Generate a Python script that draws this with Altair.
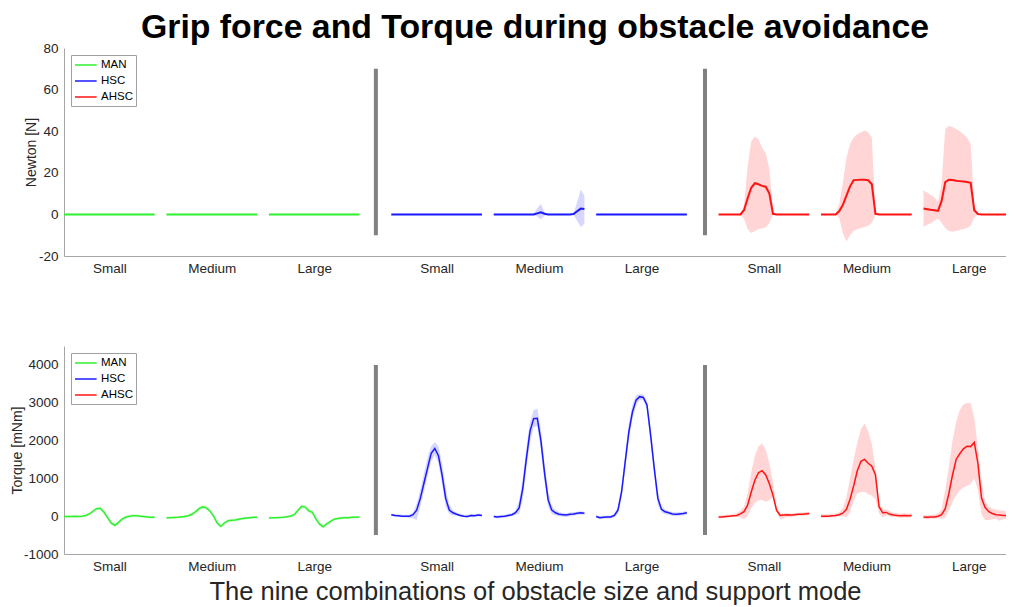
import altair as alt
import pandas as pd

# ---------------- categories ----------------
MODES = ["MAN", "HSC", "AHSC"]
SIZES = ["Small", "Medium", "Large"]
MODE_COLORS = ["#2ef02e", "#1a1aff", "#ff1414"]

# sample layout of the concatenated recordings (sample index units)
SAMPLE_STEP = 4      # samples between two stored points
SEG_STRIDE = 113     # start-to-start distance of two sizes inside one mode
GROUP_STRIDE = 361   # start-to-start distance of two modes
X_MAX = 1039
SEPARATOR_X = [344, 707]

# ---------------- Grip force [N] (26 points per segment) ----------------
newton_man_small_mean = [0,0,0,0,0,0,0,0,0,0,0,0,0,0,0,0,0,0,0,0,0,0,0,0,0,0]
newton_man_medium_mean = [0,0,0,0,0,0,0,0,0,0,0,0,0,0,0,0,0,0,0,0,0,0,0,0,0,0]
newton_man_large_mean = [0,0,0,0,0,0,0,0,0,0,0,0,0,0,0,0,0,0,0,0,0,0,0,0,0,0]
newton_flat_hi = [0.3,0.3,0.3,0.3,0.3,0.3,0.3,0.3,0.3,0.3,0.3,0.3,0.3,0.3,0.3,0.3,0.3,0.3,0.3,0.3,0.3,0.3,0.3,0.3,0.3,0.3]
newton_flat_lo = [-0.3,-0.3,-0.3,-0.3,-0.3,-0.3,-0.3,-0.3,-0.3,-0.3,-0.3,-0.3,-0.3,-0.3,-0.3,-0.3,-0.3,-0.3,-0.3,-0.3,-0.3,-0.3,-0.3,-0.3,-0.3,-0.3]

newton_hsc_small_mean = [0,0,0,0,0,0,0,0,0,0,0,0,0,0,0,0,0,0,0,0,0,0,0,0,0,0]
newton_hsc_large_mean = [0,0,0,0,0,0,0,0,0,0,0,0,0,0,0,0,0,0,0,0,0,0,0,0,0,0]
newton_hsc_medium_mean = [0,0,0,0,0,0,0,0,0,0,0,0,0.5,1.0,0.3,0,0,0,0,0,0,0,0.2,1.5,2.8,2.6]
newton_hsc_medium_hi = [0.3,0.3,0.3,0.3,0.3,0.3,0.3,0.3,0.3,0.3,0.3,0.3,3,5,1,0.3,0.3,0.3,0.3,0.3,0.3,0.3,0.6,6,12,9]
newton_hsc_medium_lo = [-0.3,-0.3,-0.3,-0.3,-0.3,-0.3,-0.3,-0.3,-0.3,-0.3,-0.3,-0.3,-1,-2.5,-0.5,-0.3,-0.3,-0.3,-0.3,-0.3,-0.3,-0.3,-0.2,-3,-6,-4.5]

newton_ahsc_small_mean = [0,0,0,0,0,0,0,2,7.7,12.8,15,14.5,13.7,13.3,10,0.3,0,0,0,0,0,0,0,0,0,0]
newton_ahsc_small_hi = [0.3,0.3,0.3,0.3,0.3,0.3,0.3,4,23,35,37.5,36,32,29.5,22,0.8,0.3,0.3,0.3,0.3,0.3,0.3,0.3,0.3,0.3,0.3]
newton_ahsc_small_lo = [-0.3,-0.3,-0.3,-0.3,-0.3,-0.3,-0.3,-2,-7,-9,-8,-7,-6.7,-6.3,-4,-0.3,-0.3,-0.3,-0.3,-0.3,-0.3,-0.3,-0.3,-0.3,-0.3,-0.3]

newton_ahsc_medium_mean = [0,0,0,0,0,1.5,4.5,9,13.5,16.4,16.6,16.7,16.7,16.4,14.5,0.3,0,0,0,0,0,0,0,0,0,0]
newton_ahsc_medium_hi = [0.3,0.3,0.3,0.3,0.5,5,15,27,34,37,38.5,39.5,40.3,39.5,37,0.8,0.3,0.3,0.3,0.3,0.3,0.3,0.3,0.3,0.3,0.3]
newton_ahsc_medium_lo = [-0.3,-0.3,-0.3,-0.3,-0.3,-1.5,-9,-13,-10,-8,-7,-6.5,-6,-5.5,-4,-0.3,-0.3,-0.3,-0.3,-0.3,-0.3,-0.3,-0.3,-0.3,-0.3,-0.3]

newton_ahsc_large_mean = [2.8,2.5,2.2,2.0,1.7,6.5,15.5,16.7,16.5,16.2,16.0,15.8,15.6,15.2,2,0.2,0,0,0,0,0,0,0,0,0,0]
newton_ahsc_large_hi = [11.5,10.5,9.5,8.2,6,15,41,42.5,42,41,40,38.5,37,34,4,0.5,0.3,0.3,0.3,0.3,0.3,0.3,0.3,0.3,0.3,0.3]
newton_ahsc_large_lo = [-6,-5,-4.3,-3,-2,-4,-6.5,-8,-8.3,-8,-7.5,-7,-6.5,-5.5,-1.5,-0.3,-0.3,-0.3,-0.3,-0.3,-0.3,-0.3,-0.3,-0.3,-0.3,-0.3]

# ---------------- Torque [mNm] ----------------
torque_man_small_mean = [-10,-10,-10,-5,-10,0,20,60,130,200,210,110,-40,-180,-240,-170,-80,-30,0,10,10,0,-10,-20,-30,-30]
torque_man_small_sd = [30,30,30,30,30,30,35,40,45,45,45,50,55,55,50,50,45,40,40,40,40,35,35,35,35,35]
torque_man_medium_mean = [-40,-40,-35,-30,-20,-10,10,50,115,200,245,220,140,0,-180,-265,-180,-120,-110,-100,-80,-60,-50,-40,-30,-30]
torque_man_medium_sd = [30,30,30,30,30,35,40,45,50,55,55,55,55,60,60,55,50,45,40,40,40,35,35,35,35,35]
torque_man_large_mean = [-45,-40,-40,-35,-30,-15,5,40,150,260,240,140,100,-80,-210,-280,-200,-140,-80,-60,-50,-40,-40,-30,-30,-20]
torque_man_large_sd = [30,30,30,30,30,35,40,45,50,55,55,55,60,60,60,55,50,45,40,40,40,35,35,35,35,35]

torque_hsc_small_mean = [40,20,10,0,0,0,40,160,470,870,1270,1660,1790,1600,1090,470,160,90,50,20,0,-10,20,10,30,20]
torque_hsc_small_hi = [70,60,50,40,40,40,100,330,700,1130,1550,1850,1960,1850,1400,750,300,160,100,70,40,40,60,50,70,60]
torque_hsc_small_lo = [0,-10,-20,-30,-30,-40,-60,-100,250,650,1050,1450,1620,1400,850,250,50,20,10,-10,-30,-40,-10,-20,0,-10]

torque_hsc_medium_mean = [-10,-20,-10,0,20,40,90,220,730,1530,2250,2580,2590,2000,1150,430,160,90,50,40,30,50,60,80,90,80]
torque_hsc_medium_hi = [30,20,30,40,60,80,150,400,1000,1800,2500,2800,2850,2300,1400,650,280,170,110,90,80,100,110,120,130,120]
torque_hsc_medium_lo = [-50,-60,-50,-40,-20,0,30,60,450,1250,1950,2350,2380,1750,900,250,60,20,0,-10,-20,0,10,30,40,40]

torque_hsc_large_mean = [-10,-40,-30,-20,-20,20,160,640,1440,2230,2760,3070,3160,3140,2940,2150,1270,470,180,115,90,60,50,60,70,90]
torque_hsc_large_hi = [30,0,10,20,20,70,260,800,1650,2450,2950,3200,3230,3220,3050,2350,1450,650,270,180,140,110,100,110,120,140]
torque_hsc_large_lo = [-50,-80,-70,-60,-60,-30,60,480,1230,2000,2560,2930,3080,3060,2820,1950,1090,300,100,50,40,10,0,10,20,40]

torque_ahsc_small_mean = [-20,-20,-10,0,10,20,60,120,290,640,950,1150,1200,1090,860,550,150,20,30,40,30,40,50,50,60,70]
torque_ahsc_small_hi = [20,20,30,40,50,80,150,250,600,1150,1600,1850,1920,1750,1400,900,250,80,80,80,70,80,90,100,110,120]
torque_ahsc_small_lo = [-60,-50,-40,-30,-20,-20,-30,-80,0,200,350,420,430,380,420,500,100,-80,-40,-20,-20,0,10,10,20,30]

torque_ahsc_medium_mean = [0,0,0,10,20,40,80,180,450,800,1200,1450,1500,1400,1320,1100,250,90,100,50,30,20,10,20,10,20]
torque_ahsc_medium_hi = [50,50,50,60,70,100,200,500,1000,1500,1950,2300,2450,2250,1900,1300,350,200,180,130,90,80,70,80,70,80]
torque_ahsc_medium_lo = [-40,-40,-40,-30,-20,0,0,-20,100,400,600,640,640,580,550,450,80,-30,20,-10,-20,-30,-40,-30,-40,-30]

torque_ahsc_large_mean = [-20,-30,-20,-20,0,40,200,600,1090,1500,1650,1780,1850,1840,1950,1400,480,230,120,70,40,30,20,20,10,10]
torque_ahsc_large_hi = [30,20,30,40,80,180,700,1300,2000,2500,2800,2950,2990,2990,2600,1800,900,400,250,200,170,150,150,120,90,80]
torque_ahsc_large_lo = [-70,-80,-70,-60,-60,-60,-40,150,380,550,680,760,800,860,1000,700,50,-100,-100,-80,-70,-120,-80,-60,-60,-50]

NEWTON = {
    ("MAN", "Small"): (newton_man_small_mean, newton_flat_lo, newton_flat_hi),
    ("MAN", "Medium"): (newton_man_medium_mean, newton_flat_lo, newton_flat_hi),
    ("MAN", "Large"): (newton_man_large_mean, newton_flat_lo, newton_flat_hi),
    ("HSC", "Small"): (newton_hsc_small_mean, newton_flat_lo, newton_flat_hi),
    ("HSC", "Medium"): (newton_hsc_medium_mean, newton_hsc_medium_lo, newton_hsc_medium_hi),
    ("HSC", "Large"): (newton_hsc_large_mean, newton_flat_lo, newton_flat_hi),
    ("AHSC", "Small"): (newton_ahsc_small_mean, newton_ahsc_small_lo, newton_ahsc_small_hi),
    ("AHSC", "Medium"): (newton_ahsc_medium_mean, newton_ahsc_medium_lo, newton_ahsc_medium_hi),
    ("AHSC", "Large"): (newton_ahsc_large_mean, newton_ahsc_large_lo, newton_ahsc_large_hi),
}


def sd_band(mean, sd):
    return ([m - s for m, s in zip(mean, sd)], [m + s for m, s in zip(mean, sd)])


TORQUE = {
    ("MAN", "Small"): (torque_man_small_mean, *sd_band(torque_man_small_mean, torque_man_small_sd)),
    ("MAN", "Medium"): (torque_man_medium_mean, *sd_band(torque_man_medium_mean, torque_man_medium_sd)),
    ("MAN", "Large"): (torque_man_large_mean, *sd_band(torque_man_large_mean, torque_man_large_sd)),
    ("HSC", "Small"): (torque_hsc_small_mean, torque_hsc_small_lo, torque_hsc_small_hi),
    ("HSC", "Medium"): (torque_hsc_medium_mean, torque_hsc_medium_lo, torque_hsc_medium_hi),
    ("HSC", "Large"): (torque_hsc_large_mean, torque_hsc_large_lo, torque_hsc_large_hi),
    ("AHSC", "Small"): (torque_ahsc_small_mean, torque_ahsc_small_lo, torque_ahsc_small_hi),
    ("AHSC", "Medium"): (torque_ahsc_medium_mean, torque_ahsc_medium_lo, torque_ahsc_medium_hi),
    ("AHSC", "Large"): (torque_ahsc_large_mean, torque_ahsc_large_lo, torque_ahsc_large_hi),
}


def build_frame(table):
    rows = []
    for g, mode in enumerate(MODES):
        for p, size in enumerate(SIZES):
            mean, lo, hi = table[(mode, size)]
            start = g * GROUP_STRIDE + p * SEG_STRIDE
            for i, (m, l, h) in enumerate(zip(mean, lo, hi)):
                rows.append(dict(mode=mode, seg=f"{mode}-{size}",
                                 x=start + i * SAMPLE_STEP, mean=m, lo=l, hi=h))
    return pd.DataFrame(rows)


TICK_X = [g * GROUP_STRIDE + p * SEG_STRIDE + 50 for g in range(3) for p in range(3)]
LABEL_EXPR = (f"datum.value % {GROUP_STRIDE} < 100 ? 'Small' : "
              f"(datum.value % {GROUP_STRIDE} < 200 ? 'Medium' : 'Large')")

FONT = "Liberation Sans"
AXIS_GREY = "#a6a6a6"
TEXT_GREY = "#262626"


def panel(table, ydom, yticks, ytitle, ytitle_x, sep_lo, sep_hi, xtitle, line_width, title=None):
    df = build_frame(table)
    sep = pd.DataFrame({"x": SEPARATOR_X, "y0": [sep_lo] * 2, "y1": [sep_hi] * 2})

    xaxis_kw = dict(values=TICK_X, labelExpr=LABEL_EXPR, ticks=False, tickSize=0,
                    grid=False, labelPadding=5, labelFontSize=13.5, labelColor=TEXT_GREY,
                    domainColor=AXIS_GREY, labelFont=FONT)
    if xtitle:
        xaxis_kw.update(title=xtitle, titleFontSize=25.5, titleFontWeight="normal",
                        titleColor=TEXT_GREY, titlePadding=7, titleFont=FONT)
    xaxis = alt.Axis(**xaxis_kw)
    xscale = alt.Scale(domain=[0, X_MAX], nice=False, zero=False)
    yaxis = alt.Axis(values=yticks, labelExpr="datum.value + ''", ticks=False, tickSize=0,
                     grid=False, labelPadding=6, labelFontSize=13.5, labelColor=TEXT_GREY,
                     domainColor=AXIS_GREY, labelFont=FONT, title=ytitle, titleFont=FONT,
                     titleFontSize=14, titleFontWeight="normal", titleColor=TEXT_GREY,
                     titleX=ytitle_x, titleBaseline="middle")
    yscale = alt.Scale(domain=ydom, nice=False, zero=False)

    def X():
        return alt.X("x:Q", scale=xscale, axis=xaxis, title=xtitle if xtitle else None)

    base = alt.Chart(df)
    layers = []
    for mode, colour in zip(MODES, MODE_COLORS):
        layers.append(
            base.transform_filter(alt.datum.mode == mode)
            .mark_area(color=colour, fillOpacity=0.18, clip=True)
            .encode(
                x=X(),
                y=alt.Y("lo:Q", scale=yscale, axis=yaxis, title=ytitle),
                y2="hi:Q",
                detail="seg:N",
            )
        )
    line = base.mark_line(strokeWidth=line_width, clip=True).encode(
        x=X(),
        y=alt.Y("mean:Q", scale=yscale, axis=yaxis, title=ytitle),
        color=alt.Color("mode:N", scale=alt.Scale(domain=MODES, range=MODE_COLORS),
                        sort=MODES,
                        legend=alt.Legend(orient="top-left", offset=7, title=None,
                                          symbolType="M-1,0H2.6", symbolSize=144,
                                          symbolStrokeWidth=1.5, labelFontSize=11.5,
                                          labelFont=FONT, labelColor="#000000",
                                          padding=3, rowPadding=3, labelOffset=13,
                                          strokeColor="#a0a0a0", fillColor="white")),
        detail="seg:N",
    )
    rules = alt.Chart(sep).mark_rule(color="#808080", strokeWidth=4).encode(
        x=X(),
        y=alt.Y("y0:Q", scale=yscale, axis=yaxis, title=ytitle),
        y2="y1:Q",
    )
    layers += [line, rules]
    props = dict(width=942, height=208)
    if title is not None:
        props["title"] = title
    return alt.layer(*layers).properties(**props)


top = panel(NEWTON, [-20, 80], [-20, 0, 20, 40, 60, 80], "Newton [N]", -33,
            -10, 70, None, 2,
            title=alt.TitleParams(text="Grip force and Torque during obstacle avoidance",
                                  fontSize=33.8, font=FONT, fontWeight="bold",
                                  color="black", anchor="middle", offset=-4))
bottom = panel(TORQUE, [-1000, 4500], [-1000, 0, 1000, 2000, 3000, 4000], "Torque [mNm]",
               -46.5, -500, 4000,
               "The nine combinations of obstacle size and support mode", 1.5)

chart = (
    alt.vconcat(top, bottom, spacing=71)
    .resolve_scale(x="independent", y="independent", color="independent")
    .resolve_legend(color="independent")
    .properties(padding={"left": 2, "top": 3, "right": 0, "bottom": 2})
    .configure_view(stroke=None)
)

chart.save("out.html", embed_options={"renderer": "svg", "actions": False})
